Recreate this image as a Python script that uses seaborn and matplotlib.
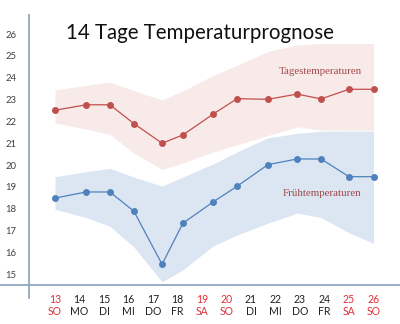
import matplotlib
matplotlib.use("Agg")
import matplotlib.pyplot as plt
import seaborn as sns
import pandas as pd
import numpy as np

days = ["13", "14", "15", "16", "17", "18", "19", "20", "21", "22", "23", "24", "25", "26"]
weekdays = ["SO", "MO", "DI", "MI", "DO", "FR", "SA", "SO", "DI", "MI", "DO", "FR", "SA", "SO"]
weekend = [True, False, False, False, False, False, True, True, False, False, False, False, True, True]

# positions of the forecast points along the day axis (as drawn in the original)
point_pos = [0.0, 1.27, 2.24, 3.22, 4.37, 5.22, 6.45, 7.43, 8.69, 9.88, 10.86, 12.0, 13.0]
tages = [22.51, 22.76, 22.76, 21.90, 21.00, 21.38, 22.33, 23.04, 23.01, 23.25, 23.03, 23.47, 23.47]
frueh = [18.49, 18.77, 18.77, 17.89, 15.46, 17.34, 18.31, 19.03, 20.02, 20.28, 20.28, 19.47, 19.47]
tages_hi = [23.44, 23.65, 23.80, 23.41, 22.98, 23.40, 24.10, 24.57, 25.20, 25.50, 25.57, 25.57, 25.57]
tages_lo = [21.93, 21.65, 21.40, 20.55, 19.80, 20.10, 20.60, 20.93, 21.35, 21.75, 21.60, 21.60, 21.60]
frueh_hi = [19.47, 19.70, 19.85, 19.45, 19.04, 19.45, 20.05, 20.60, 21.25, 21.45, 21.55, 21.56, 21.56]
frueh_lo = [17.98, 17.60, 17.20, 16.25, 14.66, 15.20, 16.30, 16.80, 17.34, 17.80, 17.60, 16.90, 16.42]
yticks = [15, 16, 17, 18, 19, 20, 21, 22, 23, 24, 25, 26]

RED = "#C0504D"
BLUE = "#4F81BD"
RED_BAND = "#F9EAEA"
BLUE_BAND = "#DCE6F2"
AXIS = "#8FA8C2"

sns.set_style("white")
plt.rcParams['font.family'] = ['Lato', 'DejaVu Sans']

fig = plt.figure(figsize=(4.0, 3.24), dpi=100)
W, H = 400, 324
ax = fig.add_axes([29 / W, 1 - 298 / H, (400 - 29) / W, (298 - 15) / H])

px = 24.5
ax.set_xlim((29 - 55) / px, (400 - 55) / px)
ax.set_ylim(26 - (298 - 34) / 21.85, 26 + (34 - 15) / 21.85)

ax.fill_between(point_pos, tages_lo, tages_hi, color=RED_BAND, lw=0, zorder=1)
ax.fill_between(point_pos, frueh_lo, frueh_hi, color=BLUE_BAND, lw=0, zorder=2)

df = pd.DataFrame({"pos": point_pos * 2,
                   "temp": tages + frueh,
                   "serie": ["Tages"] * len(tages) + ["Frueh"] * len(frueh)})
sns.lineplot(data=df, x="pos", y="temp", hue="serie", palette={"Tages": RED, "Frueh": BLUE},
             marker="o", markersize=5, markeredgewidth=0, linewidth=0.9,
             sort=False, legend=False, ax=ax, zorder=3)

for s in ["top", "right", "bottom"]:
    ax.spines[s].set_visible(False)
ax.spines["left"].set_color(AXIS)
ax.spines["left"].set_linewidth(1.3)

hy = 26 - (285 - 34) / 21.85
ax.axhline(hy, xmin=-29 / 371, xmax=1, color=AXIS, lw=1.3, clip_on=False, zorder=4)

ax.set_yticks(yticks)
ax.set_yticklabels([str(v) for v in yticks], fontsize=6.8, color="#404040")
ax.tick_params(axis="y", length=0, pad=9)

ax.set_xticks(range(len(days)))
ax.set_xticklabels([f"{d}\n{w}" for d, w in zip(days, weekdays)], fontsize=7.6, linespacing=1.15)
ax.tick_params(axis="x", length=0, pad=-3)
for lab, we in zip(ax.get_xticklabels(), weekend):
    lab.set_color("#E0303A" if we else "#202020")
ax.set_xlabel("")
ax.set_ylabel("")

fig.text(200 / W, 1 - 33 / H, "14 Tage Temperaturprognose", ha="center", va="center",
         fontsize=14.8, color="#101010")
ax.text(320 / px - 55 / px, 26 - (72 - 34) / 21.85, "Tagestemperaturen", ha="center", va="center",
        fontsize=7.8, color="#A04848", family=["Liberation Serif"], zorder=5)
ax.text(322 / px - 55 / px, 26 - (193 - 34) / 21.85, "Frühtemperaturen", ha="center", va="center",
        fontsize=7.8, color="#A04848", family=["Liberation Serif"], zorder=5)

fig.savefig("out.png", dpi=100)
